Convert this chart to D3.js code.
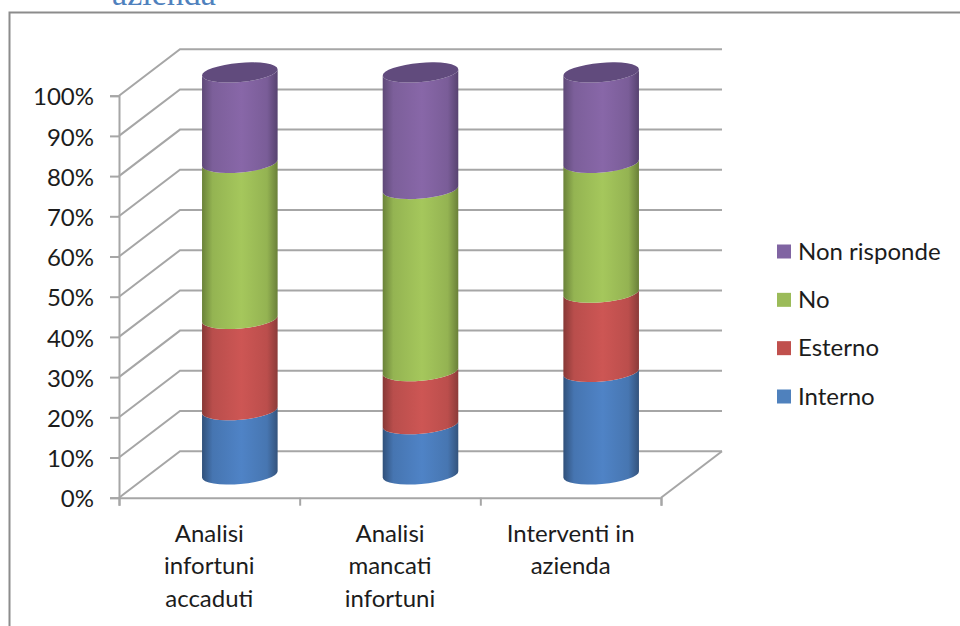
<!DOCTYPE html>
<html>
<head>
<meta charset="utf-8">
<script src="https://cdn.jsdelivr.net/npm/d3@7/dist/d3.min.js"></script>
<style>
  html, body { margin: 0; padding: 0; background: #fff; overflow: hidden; }
  svg { display: block; }
  text { font-family: Lato, "Open Sans", sans-serif; fill: #1c1c1c; }
</style>
</head>
<body>
<svg id="chart" width="960" height="626"></svg>
<script>
// Survey responses as percentages, stacked bottom to top
const categories = [
  ["Analisi", "infortuni", "accaduti"],
  ["Analisi", "mancati", "infortuni"],
  ["Interventi in", "azienda"]
];
const seriesNames = ["Interno", "Esterno", "No", "Non risponde"];
const interno = [16, 12.5, 25.5];
const esterno = [22.7, 13.2, 19.7];
const no = [38.8, 45.3, 32.3];
const nonRisponde = [22.5, 29, 22.5];
const seriesValues = [interno, esterno, no, nonRisponde];
const seriesColors = ["#4f81bd", "#c0504d", "#9bbb59", "#8064a2"];
const gradientStops = [
  ["#30507a", "#4f83c6", "#34537c"],
  ["#873836", "#cd5654", "#8b3b39"],
  ["#6a8239", "#a5c75c", "#6a8039"],
  ["#5e4977", "#8867a8", "#574370"]
];
const topFace = "#614b7d";
const yTicks = d3.range(0, 101, 10);

const svg = d3.select("#chart");
const gridColor = "#a6a6a6";

// Frame and the heading that runs off the top edge
svg.append("text")
  .attr("x", 164).attr("y", 5)
  .attr("text-anchor", "middle")
  .style("font-family", "'Liberation Serif', serif")
  .style("font-size", "34px")
  .style("fill", "#4f81bd")
  .text("azienda");
svg.append("path")
  .attr("d", "M9.5,626V12.5H960")
  .attr("fill", "none").attr("stroke", "#8c8c8c").attr("stroke-width", 2);

// Oblique projection: the floor and walls are offset by a fixed depth
const depth = { x: 61, y: -46.5 };
const y = d3.scaleLinear().domain([0, 100]).range([497.7, 95.7]);
const xBand = d3.scaleBand().domain(d3.range(categories.length)).range([119, 661]);
const xEdges = d3.scaleLinear().domain([0, categories.length]).range([119, 661]);

// Back wall gridlines and their diagonal returns along the left wall
const grid = svg.append("g").attr("fill", "none").attr("stroke", gridColor).attr("stroke-width", 2);
grid.selectAll("path.wall").data(yTicks).join("path")
  .attr("class", "wall")
  .attr("d", d => `M${xEdges(0)},${y(d)}L${xEdges(0) + depth.x},${y(d) + depth.y}H${xEdges(3) + depth.x}`);
grid.append("path")
  .attr("d", `M${xEdges(3)},${y(0)}L${xEdges(3) + depth.x},${y(0) + depth.y}`);

// Axes
const yAxis = svg.append("g")
  .attr("transform", `translate(${xEdges(0)},0)`)
  .call(d3.axisLeft(y).tickValues(yTicks).tickSize(9).tickPadding(16).tickFormat(d => d + "%"));
const xAxis = svg.append("g")
  .attr("transform", `translate(0,${y(0)})`)
  .call(d3.axisBottom(xEdges).ticks(3).tickSize(8).tickFormat(""));
[yAxis, xAxis].forEach(a => {
  a.selectAll("path.domain").attr("stroke", gridColor).attr("stroke-width", 2);
  a.selectAll("line").attr("stroke", gridColor).attr("stroke-width", 2);
});
yAxis.selectAll("text")
  .attr("dy", "0.38em")
  .style("font-size", "24px")
  .style("fill", "#1c1c1c")
  .style("font-family", "Lato, sans-serif");

// Category labels, one centred line per row
const catLabels = svg.append("g").attr("text-anchor", "middle").style("font-size", "24px");
categories.forEach((lines, i) => {
  const t = catLabels.append("text").attr("y", 541.5);
  lines.forEach((line, j) => {
    t.append("tspan")
      .attr("x", xBand(i) + xBand.bandwidth() / 2)
      .attr("dy", j ? 32.5 : 0)
      .text(line);
  });
});

// Horizontal shading for the cylinder sides
const defs = svg.append("defs");
gradientStops.forEach((stops, i) => {
  const g = defs.append("linearGradient").attr("id", "side" + i);
  const shoulder = t => d3.interpolateRgb(stops[t], stops[1])(0.72);
  g.append("stop").attr("offset", "0").attr("stop-color", stops[0]);
  g.append("stop").attr("offset", "0.14").attr("stop-color", shoulder(0));
  g.append("stop").attr("offset", "0.52").attr("stop-color", stops[1]);
  g.append("stop").attr("offset", "0.86").attr("stop-color", shoulder(2));
  g.append("stop").attr("offset", "1").attr("stop-color", stops[2]);
});

// Stacked cylinders, seen slightly from above with a tilted ellipse cross-section
const rx = xBand.bandwidth() * 0.21;
const ry = 9.6;
const tilt = -5;
const lean = rx * Math.sin(-tilt * Math.PI / 180);
const run = rx * Math.cos(tilt * Math.PI / 180);
const cx = i => xBand(i) + xBand.bandwidth() / 2 + depth.x / 2;
const cy = v => y(v) + depth.y / 2;

const stackData = d3.stack().keys(d3.range(seriesNames.length)).value((d, k) => seriesValues[k][d])(d3.range(categories.length));

categories.forEach((_, i) => {
  const g = svg.append("g");
  stackData.forEach((layer, k) => {
    const [lo, hi] = layer[i];
    g.append("path")
      .attr("fill", `url(#side${k})`)
      .attr("d",
        `M${cx(i) - run},${cy(lo) + lean}` +
        `A${rx},${ry} ${tilt} 0 0 ${cx(i) + run},${cy(lo) - lean}` +
        `L${cx(i) + run},${cy(hi) - lean}` +
        `A${rx},${ry} ${tilt} 0 1 ${cx(i) - run},${cy(hi) + lean}Z`);
  });
  const total = d3.sum(seriesValues, s => s[i]);
  g.append("ellipse")
    .attr("cx", 0).attr("cy", 0)
    .attr("rx", rx).attr("ry", ry)
    .attr("fill", topFace)
    .attr("transform", `translate(${cx(i)},${cy(total)}) rotate(${tilt})`);
});

// Legend, listed in reverse stacking order
const legendY = d3.scalePoint().domain(d3.range(seriesNames.length).reverse()).range([251.5, 396.5]);
const legend = svg.append("g").selectAll("g").data(seriesNames).join("g")
  .attr("transform", (d, i) => `translate(777,${legendY(i)})`);
legend.append("rect")
  .attr("x", 0).attr("y", -7).attr("width", 14).attr("height", 14)
  .attr("fill", (d, i) => seriesColors[i]);
legend.append("text")
  .attr("x", 21).attr("y", 8)
  .style("font-size", "24px")
  .text(d => d);
</script>
</body>
</html>
